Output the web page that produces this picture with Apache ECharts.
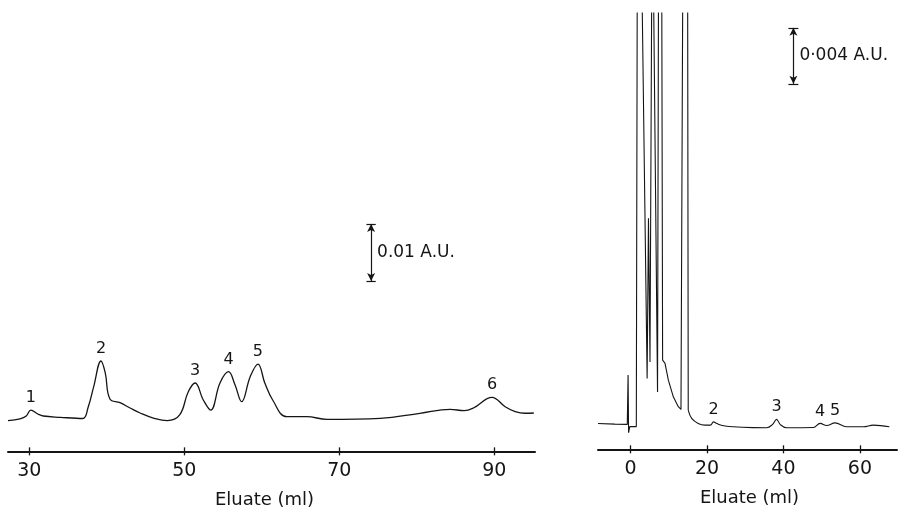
<!DOCTYPE html>
<html>
<head>
<meta charset="utf-8">
<script src="https://cdn.jsdelivr.net/npm/echarts@6/dist/echarts.min.js"></script>
<style>
  html, body { margin: 0; padding: 0; background: #fff; }
  #chart { width: 919px; height: 517px; }
</style>
</head>
<body>
<div id="chart"></div>
<script>
// Elution profiles: eluate volume (ml) vs absorbance (A.U.)
const leftTicks = [30, 50, 70, 90];
const rightTicks = [0, 20, 40, 60];

// Column A trace [ml, A.U.]
const leftTrace = [
  [27.25, -0.0001], [28.8, 0.0002], [29.6, 0.0007], [30.2, 0.00175], [31.1, 0.00105],
  [31.8, 0.0007], [34.0, 0.00047], [36.9, 0.00026], [37.6, 0.00228], [38.3, 0.0058],
  [39.25, 0.01035], [39.8, 0.00825], [40.4, 0.00368], [41.7, 0.00304], [43.0, 0.0021],
  [44.3, 0.00123], [46.0, 0.00035], [47.8, -0.00012], [49.4, 0.00088], [50.5, 0.00491],
  [51.4, 0.00649], [52.45, 0.00351], [53.4, 0.00175], [54.6, 0.00649], [55.7, 0.00847],
  [56.55, 0.00614], [57.4, 0.00321], [58.5, 0.0076], [59.5, 0.00982], [60.4, 0.00644],
  [61.4, 0.00351], [63.2, 0.00058], [65.8, 0.00058], [68.4, 0.00012], [75.3, 0.0003],
  [80.4, 0.00118], [84.3, 0.00188], [86.1, 0.00163], [87.3, 0.0021], [89.7, 0.00398],
  [91.4, 0.00233], [92.7, 0.00146], [94.0, 0.00118], [95.1, 0.00123]
];

// Column B trace, early off-scale region [ml, A.U.]
const rightFrontTrace = [
  [-8.5, 0.00004], [-4.1, 0], [-0.84, -0.00002], [-0.63, 0.0035], [-0.5, -0.00061],
  [-0.2, -0.00018], [1.52, -0.00018], [1.83, 0.04], [2.57, 0.04], [4.35, 0.00326],
  [4.7, 0.0147], [5.1, 0.00443], [5.7, 0.04], [6.2, 0.04], [7.07, 0.00229],
  [7.4, 0.04], [8.1, 0.04], [8.4, 0.00457], [9.03, 0.00434], [9.9, 0.00314],
  [11.2, 0.00195], [12.5, 0.00124], [13.2, 0.00105], [13.8, 0.04], [14.9, 0.04],
  [15.1, 0.001]
];
// Column B trace, later region [ml, A.U.]
const rightTailTrace = [
  [15.1, 0.001], [16.0, 0.00041], [17.7, 0.00005], [19.45, -0.00007], [20.9, -0.00007],
  [21.7, 0.00016], [22.6, 0.00004], [24.0, -0.0001], [26.9, -0.00019], [32.0, -0.00025],
  [35.6, -0.00026], [37.1, -0.00004], [38.2, 0.00034], [39.2, -0.00004], [40.8, -0.00026],
  [47.8, -0.00024], [49.6, 0.00005], [51.3, -0.0001], [53.5, 0.00009], [56.5, -0.00019],
  [60.9, -0.00019], [63.5, -0.00007], [67.7, -0.00019]
];

const leftPeakNames = ['1', '2', '3', '4', '5', '6'];
const leftPeakAt = [30.2, 39.25, 51.4, 55.7, 59.5, 89.7];
const rightPeakNames = ['2', '3', '4', '5'];
const rightPeakAt = [21.7, 38.2, 49.6, 53.5];

const leftScaleAU = 0.01;
const rightScaleAU = 0.004;
const leftScaleText = '0.01 A.U.';
const rightScaleText = '0·004 A.U.';
const axisTitle = 'Eluate (ml)';

const INK = '#151515';
const FONT = 'DejaVu Sans';

function valueAt(trace, x) {
  const p = trace.find(d => d[0] === x);
  return p ? p[1] : 0;
}

function peakMarks(trace, xs, names) {
  return {
    symbolSize: 0,
    silent: true,
    label: {
      show: true, position: 'top', distance: 4,
      color: INK, fontFamily: FONT, fontSize: 16,
      formatter: p => p.name
    },
    data: xs.map((x, i) => ({ name: names[i], coord: [x, valueAt(trace, x)] }))
  };
}

// Vertical calibration bar with end caps and arrowheads
function scaleBar(x, y0, size, capHalf, text) {
  const line = { color: INK, width: 1.2, type: 'solid' };
  return {
    markLine: {
      silent: true, animation: false,
      symbol: ['none', 'none'],
      label: { show: false },
      lineStyle: line,
      data: [
        [{ coord: [x, y0], symbol: 'arrow', symbolSize: [6, 8] }, { coord: [x, y0 + size], symbol: 'arrow', symbolSize: [6, 8] }],
        [{ coord: [x - capHalf, y0] }, { coord: [x + capHalf, y0] }],
        [{ coord: [x - capHalf, y0 + size] }, { coord: [x + capHalf, y0 + size] }]
      ]
    },
    markPoint: {
      symbolSize: 0, silent: true,
      label: {
        show: true, position: 'right', distance: 6,
        color: INK, fontFamily: FONT, fontSize: 17,
        formatter: text
      },
      data: [{ coord: [x, y0 + size / 2] }]
    }
  };
}

function xAxisPair(gridIndex, min, max, ticks, titlePad) {
  const base = {
    type: 'value', gridIndex, min, max, position: 'bottom',
    splitLine: { show: false }
  };
  return [
    Object.assign({}, base, {
      name: axisTitle, nameLocation: 'middle', nameGap: 40,
      nameTextStyle: { color: INK, fontFamily: FONT, fontSize: 18, padding: titlePad },
      axisLine: { show: true, onZero: false, lineStyle: { color: INK, width: 2 } },
      axisTick: { show: true, customValues: ticks, length: 4, lineStyle: { color: INK, width: 1.3 } },
      axisLabel: { show: true, customValues: ticks, margin: 10, color: INK, fontFamily: FONT, fontSize: 19 }
    }),
    Object.assign({}, base, {
      axisLine: { show: false, onZero: false },
      axisTick: { show: true, inside: true, customValues: ticks, length: 4, lineStyle: { color: INK, width: 1.3 } },
      axisLabel: { show: false }
    })
  ];
}

const leftBar = scaleBar(74.1, 0.0244, leftScaleAU, 0.6, leftScaleText);
const rightBar = scaleBar(42.6, 0.0243, rightScaleAU, 1.3, rightScaleText);

const option = {
  animation: false,
  backgroundColor: '#fff',
  grid: [
    { left: 8, width: 527, top: 21, bottom: 65.65 },
    { left: 598, width: 299, top: 13, bottom: 67.7 }
  ],
  xAxis: [
    ...xAxisPair(0, 27.25, 95.25, leftTicks, [0, 14, 0, 0]),
    ...xAxisPair(1, -8.5, 69.7, rightTicks, [0, 0, 0, 4])
  ],
  yAxis: [
    { type: 'value', gridIndex: 0, min: -0.0055, max: 0.07, show: false },
    { type: 'value', gridIndex: 1, min: -0.0018, max: 0.02936, show: false }
  ],
  series: [
    {
      type: 'line', xAxisIndex: 0, yAxisIndex: 0, data: leftTrace,
      showSymbol: false, smooth: 0.4,
      lineStyle: { color: INK, width: 1.3 },
      markPoint: peakMarks(leftTrace, leftPeakAt, leftPeakNames),
      markLine: leftBar.markLine
    },
    {
      type: 'line', xAxisIndex: 0, yAxisIndex: 0, data: [],
      markPoint: leftBar.markPoint
    },
    {
      type: 'line', xAxisIndex: 2, yAxisIndex: 1, data: rightFrontTrace,
      showSymbol: false, smooth: false, clip: true,
      lineStyle: { color: INK, width: 1.1 },
      markLine: rightBar.markLine,
      markPoint: rightBar.markPoint
    },
    {
      type: 'line', xAxisIndex: 2, yAxisIndex: 1, data: rightTailTrace,
      showSymbol: false, smooth: 0.4,
      lineStyle: { color: INK, width: 1.1 },
      markPoint: peakMarks(rightTailTrace, rightPeakAt, rightPeakNames)
    }
  ]
};

const chart = echarts.init(document.getElementById('chart'), null, { renderer: 'canvas' });
chart.setOption(option);
</script>
</body>
</html>
